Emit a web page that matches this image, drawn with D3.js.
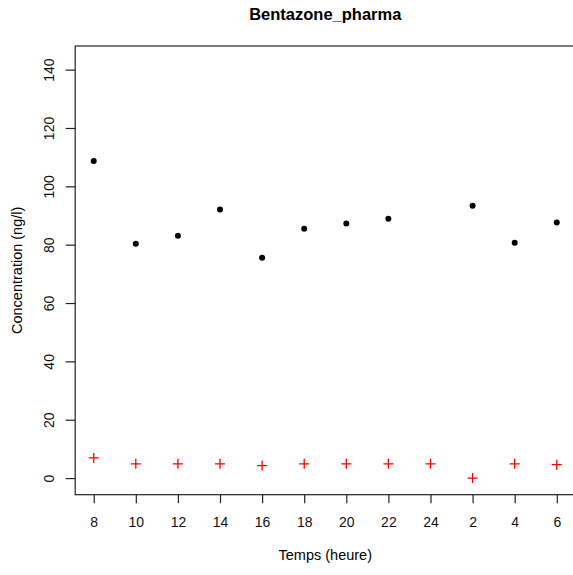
<!DOCTYPE html>
<html>
<head>
<meta charset="utf-8">
<script src="https://cdn.jsdelivr.net/npm/d3@7"></script>
<style>
  body { margin: 0; background: #fff; }
  svg text { font-family: "Liberation Sans", Arial, sans-serif; fill: #000; }
</style>
</head>
<body>
<svg id="chart" width="573" height="575"></svg>
<script>
// heures de prelevement (ordre chronologique)
var hours = ["8", "10", "12", "14", "16", "18", "20", "22", "24", "2", "4", "6"];
// concentrations mesurees (ng/l), null = pas de mesure
var pharmaValues = [108.7, 80.3, 83.1, 92.1, 75.5, 85.5, 87.3, 88.9, null, 93.3, 80.7, 87.6];
var redValues = [6.9, 4.9, 4.9, 4.9, 4.3, 4.9, 4.9, 4.9, 4.9, 0, 4.9, 4.6];
var yTicks = [0, 20, 40, 60, 80, 100, 120, 140];

var svg = d3.select("#chart");

var plotLeft = 75.2, plotRight = 575.3, plotTop = 46, plotBottom = 494.7;

// like R: index 1..12 with 4% padding
var x = d3.scaleLinear()
    .domain([0.56, 12.44])
    .range([plotLeft, plotRight]);

var y = d3.scaleLinear()
    .domain([-5.7, 148.1])
    .range([plotBottom, plotTop]);

// box
svg.append("rect")
    .attr("x", plotLeft)
    .attr("y", plotTop)
    .attr("width", plotRight - plotLeft)
    .attr("height", plotBottom - plotTop)
    .attr("fill", "none")
    .attr("stroke", "#222")
    .attr("stroke-width", 1.2);

// y axis
var yAxis = d3.axisLeft(y)
    .tickValues(yTicks)
    .tickSize(9.5)
    .tickSizeOuter(0);

var gy = svg.append("g")
    .attr("transform", "translate(" + plotLeft + ",0)")
    .call(yAxis);
gy.select(".domain").remove();
gy.selectAll(".tick line").attr("stroke", "#222").attr("stroke-width", 1.2);
gy.selectAll(".tick text")
    .attr("x", null)
    .attr("dy", null)
    .attr("transform", "translate(-26,0) rotate(-90)")
    .attr("text-anchor", "middle")
    .attr("dominant-baseline", "central")
    .style("font-size", "14px")
    .style("fill", "#111");

// x axis
var xAxis = d3.axisBottom(x)
    .tickValues(d3.range(1, hours.length + 1))
    .tickFormat(function (d) { return hours[d - 1]; })
    .tickSize(8.5)
    .tickSizeOuter(0);

var gx = svg.append("g")
    .attr("transform", "translate(0," + plotBottom + ")")
    .call(xAxis);
gx.select(".domain").remove();
gx.selectAll(".tick line").attr("stroke", "#222").attr("stroke-width", 1.2);
gx.selectAll(".tick text")
    .attr("y", 27)
    .attr("dy", null)
    .attr("dominant-baseline", "central")
    .style("font-size", "14px")
    .style("fill", "#111");

// black points
svg.selectAll("circle.pharma")
    .data(pharmaValues.map(function (v, i) { return { i: i + 1, v: v }; })
        .filter(function (d) { return d.v !== null; }))
    .enter()
    .append("circle")
    .attr("class", "pharma")
    .attr("cx", function (d) { return x(d.i); })
    .attr("cy", function (d) { return y(d.v); })
    .attr("r", 3)
    .attr("fill", "#000");

// red crosses
svg.selectAll("path.red")
    .data(redValues.map(function (v, i) { return { i: i + 1, v: v }; }))
    .enter()
    .append("path")
    .attr("class", "red")
    .attr("d", "M-5,0H5M0,-5V5")
    .attr("transform", function (d) { return "translate(" + x(d.i) + "," + y(d.v) + ")"; })
    .attr("stroke", "#ff0000")
    .attr("stroke-width", 1.3)
    .attr("fill", "none");

// titles
svg.append("text")
    .attr("x", (plotLeft + plotRight) / 2)
    .attr("y", 13.5)
    .attr("text-anchor", "middle")
    .attr("dominant-baseline", "central")
    .style("font-size", "16.5px")
    .style("font-weight", "bold")
    .text("Bentazone_pharma");

svg.append("text")
    .attr("x", (plotLeft + plotRight) / 2)
    .attr("y", 555)
    .attr("text-anchor", "middle")
    .attr("dominant-baseline", "central")
    .style("font-size", "14.5px")
    .text("Temps (heure)");

svg.append("text")
    .attr("transform", "translate(16.5," + (plotTop + plotBottom) / 2 + ") rotate(-90)")
    .attr("text-anchor", "middle")
    .attr("dominant-baseline", "central")
    .style("font-size", "14.5px")
    .text("Concentration (ng/l)");
</script>
</body>
</html>
